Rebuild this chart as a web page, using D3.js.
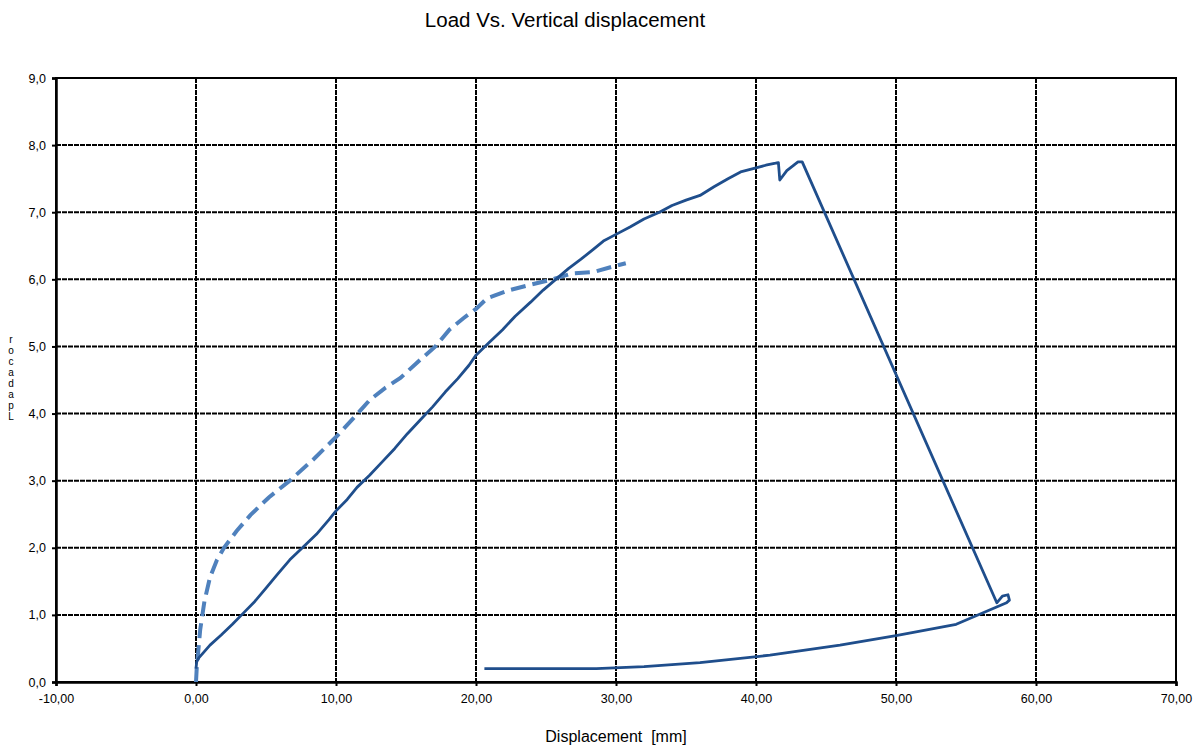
<!DOCTYPE html>
<html><head><meta charset="utf-8">
<script src="https://cdn.jsdelivr.net/npm/d3@7"></script>
<style>body{margin:0;background:#fff;font-family:"Liberation Sans",Arial,sans-serif}</style>
</head><body><svg id="c" width="1202" height="747"></svg>
<script>
const title = "Load Vs. Vertical displacement";
const xLabel = "Displacement  [mm]";
const yLabel = "rocadapL";
const xTicks = [-10,0,10,20,30,40,50,60,70];
const yTicks = [0,1,2,3,4,5,6,7,8,9];

// Solid series (test 1)
const solidX = [0.0,0.05,0.2,0.5,1.0,1.8,2.6,3.4,4.2,5.0,5.8,6.7,7.6,8.6,9.5,10.0,10.8,11.5,12.4,13.3,14.2,15.1,16.0,16.9,17.8,18.7,19.5,20.0,20.9,21.9,22.8,23.9,24.8,25.7,26.6,27.5,28.4,29.1,30.0,31.0,32.0,33.1,34.0,35.0,36.0,37.0,38.0,38.9,40.0,40.7,41.4,41.6,41.7,42.2,43.0,43.3,57.2,57.6,58.0,58.1,57.9,54.3,50.0,46.0,41.0,36.0,32.0,28.6,20.6];
const solidY = [0.2,0.3,0.36,0.43,0.55,0.7,0.86,1.03,1.2,1.4,1.6,1.82,2.0,2.2,2.42,2.55,2.72,2.9,3.08,3.28,3.48,3.7,3.9,4.1,4.32,4.52,4.72,4.87,5.05,5.25,5.45,5.66,5.84,6.0,6.16,6.3,6.45,6.57,6.67,6.78,6.9,7.0,7.1,7.18,7.25,7.38,7.5,7.6,7.66,7.7,7.73,7.74,7.48,7.62,7.75,7.75,1.18,1.28,1.3,1.22,1.18,0.86,0.69,0.55,0.4,0.29,0.23,0.2,0.2];

// Dashed series (test 2)
const dashX = [0.0,0.05,0.3,0.6,1.0,1.5,2.0,2.9,3.9,5.2,6.7,8.4,10.0,11.2,12.4,13.5,14.6,15.9,17.1,18.1,19.1,20.0,20.8,22.4,23.9,25.3,26.9,28.4,29.6,30.7];
const dashY = [0.0,0.2,0.78,1.2,1.56,1.82,2.0,2.25,2.49,2.75,3.0,3.32,3.65,3.92,4.2,4.38,4.53,4.78,5.0,5.25,5.42,5.56,5.72,5.84,5.92,5.99,6.09,6.11,6.18,6.24];

const L=56,R=1176,T=78,B=682;
const svg=d3.select("#c");
const x=d3.scaleLinear().domain([-10,70]).range([L,R]);
const y=d3.scaleLinear().domain([0,9]).range([B,T]);
const fmtX=d=>d3.format(".2f")(d).replace(".",",").replace("\u2212","-");
const fmtY=d=>d3.format(".1f")(d).replace(".",",");

// grid
const g=svg.append("g");
g.selectAll("line.gx").data(xTicks).join("line")
 .attr("x1",d=>x(d)).attr("x2",d=>x(d)).attr("y1",T).attr("y2",B)
 .attr("stroke","#000").attr("stroke-width",2).attr("stroke-dasharray","5,1");
g.selectAll("line.gy").data(yTicks).join("line")
 .attr("y1",d=>y(d)).attr("y2",d=>y(d)).attr("x1",L).attr("x2",R)
 .attr("stroke","#000").attr("stroke-width",2).attr("stroke-dasharray","5,1");
svg.append("rect").attr("x",L).attr("y",T).attr("width",R-L).attr("height",B-T)
 .attr("fill","none").attr("stroke","#000").attr("stroke-width",2);

// axes
const xa=svg.append("g").attr("transform",`translate(0,${B})`)
 .call(d3.axisBottom(x).tickValues(xTicks).tickFormat(fmtX).tickSize(4).tickPadding(8));
const ya=svg.append("g").attr("transform",`translate(${L},0)`)
 .call(d3.axisLeft(y).tickValues(yTicks).tickFormat(fmtY).tickSize(4).tickPadding(6));
[xa,ya].forEach(a=>{a.select(".domain").attr("stroke","#000").attr("stroke-width",2.5);
 a.selectAll(".tick line").attr("stroke","#000").attr("stroke-width",2);
 a.selectAll("text").attr("font-family","Liberation Sans, Arial, sans-serif").attr("font-size",12.5).attr("fill","#000");});

const line=d3.line().x(d=>x(d[0])).y(d=>y(d[1]));
svg.append("path").datum(dashX.map((v,i)=>[v,dashY[i]]))
 .attr("d",line).attr("fill","none").attr("stroke","#4F81BD").attr("stroke-width",4)
 .attr("stroke-dasharray","15,7");
svg.append("path").datum(solidX.map((v,i)=>[v,solidY[i]]))
 .attr("d",line).attr("fill","none").attr("stroke","#1F4E8C").attr("stroke-width",2.8)
 .attr("stroke-linejoin","round");

svg.append("text").attr("x",565).attr("y",27).attr("text-anchor","middle")
 .attr("font-size",20.5).attr("fill","#000").text(title);
svg.append("text").attr("x",616).attr("y",742).attr("text-anchor","middle")
 .attr("font-size",16).attr("fill","#000").style("white-space","pre").text(xLabel);
svg.append("text").attr("x",11).attr("y",334).attr("font-size",10).attr("fill","#000")
 .style("writing-mode","vertical-rl").style("text-orientation","upright").text(yLabel);
</script></body></html>
